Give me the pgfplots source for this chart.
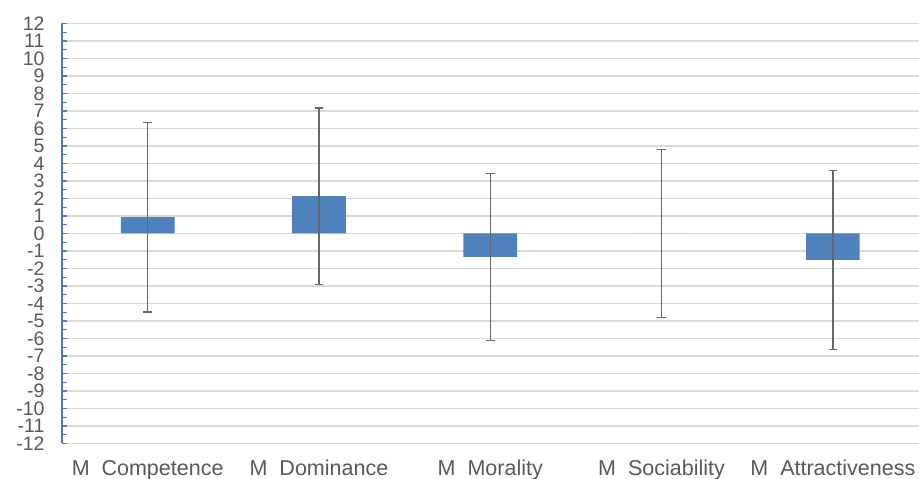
\documentclass[border=0pt]{standalone}
\usepackage{fontspec}
\setmainfont{Liberation Sans}
\usepackage{pgfplots}
\pgfplotsset{compat=1.18}
\definecolor{barblue}{HTML}{4F81BD}
\definecolor{axblue}{HTML}{4A7EBB}
\definecolor{gridc}{HTML}{D9D9D9}
\definecolor{txt}{HTML}{595959}
\definecolor{errc}{HTML}{676767}
\begin{document}
\begin{tikzpicture}
\begin{axis}[name=ax, scale only axis, width=856.5pt, height=420pt,
  xmin=-0.5, xmax=4.5, ymin=-12, ymax=12,
  axis y line=left, axis x line=bottom, axis line style={-},
  x axis line style={draw=none},
  y axis line style={draw=axblue, line width=1.2pt},
  xtick={0,1,2,3,4},
  xticklabels={M\ \ Competence, M\ \ Dominance, M\ \ Morality, M\ \ Sociability, M\ \ Attractiveness},
  x tick style={draw=none},
  x tick label style={font=\fontsize{21.5}{21.5}\selectfont, text=txt, yshift=-13pt},
  ytick={-12,-11,...,12},
  yticklabels={-12,-11,-10,-9,-8,-7,-6,-5,-4,-3,-2,-1,0,1,2,3,4,5,6,7,8,9,10,11,12},
  minor y tick num=1,
  tick align=inside,
  y tick style={draw=axblue, line width=1.2pt},
  major tick length=5pt, minor tick length=5pt,
  y tick label style={font=\fontsize{19.5}{19.5}\selectfont, text=txt, xshift=-14pt},
  ymajorgrids, major grid style={draw=gridc, line width=1.3pt},
]
\addplot[ybar, bar width=53.7pt, fill=barblue, draw=none,
  error bars/.cd, y dir=both, y explicit,
  error bar style={draw=errc, line width=1.4pt},
  error mark options={draw=errc, line width=1.4pt, mark size=4.3pt, rotate=90}]
  table[x=x, y=y, y error=e] {
x y e
0 0.93 5.42
1 2.13 5.03
2 -1.34 4.76
3 0.00 4.80
4 -1.51 5.12
};
\end{axis}
\pgfresetboundingbox
\path ([shift={(-62pt,-35.5pt)}]ax.south west) rectangle ([shift={(0.5pt,23.5pt)}]ax.north east);
\end{tikzpicture}
\end{document}
